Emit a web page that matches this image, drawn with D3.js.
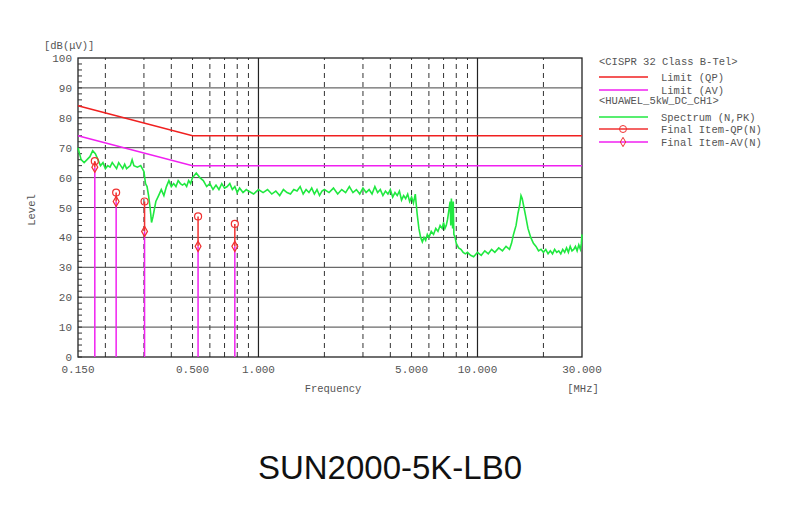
<!DOCTYPE html>
<html><head><meta charset="utf-8">
<script src="https://cdn.jsdelivr.net/npm/d3@7"></script>
<style>body{margin:0;background:#fff}text{font-family:"Liberation Mono",monospace;fill:#555}</style>
</head><body><svg id="c" width="808" height="518"></svg>
<script>
var specFreq = [0.15,0.155,0.16,0.165,0.17,0.175,0.18,0.185,0.19,0.195,0.2,0.205,0.21,0.215,0.22,0.225,0.23,0.235,0.24,0.245,0.25,0.26,0.265,0.27,0.28,0.29,0.295,0.3,0.305,0.31,0.315,0.32,0.325,0.33,0.34,0.35,0.36,0.37,0.38,0.39,0.4,0.41,0.42,0.43,0.44,0.45,0.46,0.47,0.48,0.49,0.5,0.52,0.54,0.56,0.58,0.6,0.62,0.64,0.66,0.68,0.7,0.72,0.74,0.76,0.78,0.8,0.82,0.85,0.88,0.9,0.95,1.0,1.05,1.1,1.15,1.2,1.25,1.3,1.35,1.4,1.45,1.5,1.55,1.6,1.65,1.7,1.75,1.8,1.85,1.9,1.95,2.0,2.1,2.2,2.3,2.4,2.5,2.6,2.7,2.8,2.9,3.0,3.1,3.2,3.3,3.4,3.5,3.6,3.7,3.8,3.9,4.0,4.1,4.2,4.3,4.4,4.5,4.6,4.7,4.8,4.9,5.0,5.1,5.2,5.3,5.4,5.5,5.6,5.7,5.8,5.9,6.0,6.15,6.3,6.45,6.6,6.75,6.9,7.0,7.1,7.2,7.3,7.5,7.55,7.6,7.7,7.75,7.8,7.9,8.0,8.2,8.4,8.6,8.8,9,9.3,9.6,10,10.4,10.8,11.2,11.6,12,12.5,13,13.5,14,14.3,14.6,15,15.3,15.6,15.8,16.0,16.3,16.6,17,17.5,18,18.5,19,19.5,20,20.5,21,21.5,22,22.5,23,23.5,24,24.5,25,25.5,26,26.5,27,27.5,28,28.5,29,29.5,29.8,30,30];
var specLevel = [70,66,65,66,67,69,68,66,64,65,63,64,63.5,65,64,63,65,64,63,64.5,63,64,66,64,63.5,64,63,62,58,57,54,50,45,47,52,54,56,54,57,59,57,58,57,59,58,57.5,58,57,59,58,60,61.5,60,59,57,58,56,57.5,56,58,56.5,57,58,56,57,55,56.5,55,56,55.5,54.5,56,55,56,54.5,55.5,54,56,55,54.5,56,55.5,57,54.5,56,55,56.5,54.5,56,54,55.5,56,55,56.5,54.5,56,55,57,55,56,54.5,56.5,55,56,54.5,57,55,56,54,55.5,54.5,56,53.5,55,54,55.5,52.5,54,53,54.5,52,53.5,51.5,54.5,48,43,40,38.5,40,39,41,40,42,41,43,42,44,43,45,43,44,46,52,44,53,43,52,41,40,38,36.5,36,35,34.5,35,34,33.5,35,34,35.5,34.5,36,35,36.5,35.5,37,36,38,41,44,48,51,54,53,50,47,43,40,38,37,35.5,36,35,36,34.5,35.5,34.5,36,35,35.5,34.5,36,35,36.5,35,37,35.5,36,37,35.5,37.5,36,38,41,41,16];
var limitFreq = [0.15,0.5,30];
var limitQP = [84,74,74];
var limitAV = [74,64,64];
var itemFreq = [0.179,0.224,0.302,0.53,0.78];
var itemQP = [65.5,55,52,47,44.5];
var itemAV = [63.5,52,42,37,37];
var xTickVals = [0.15,0.5,1,5,10,30];
var xTickText = ["0.150","0.500","1.000","5.000","10.000","30.000"];

var svg = d3.select("#c");
var x = d3.scaleLog().domain([0.15,30]).range([78,582]);
var y = d3.scaleLinear().domain([0,100]).range([357,58]);

// grid
var dashed = [0.2,0.3,0.4,0.6,0.7,0.8,0.9,2,3,4,6,7,8,9,20,0.5,5];
svg.selectAll(".vd").data(dashed).enter().append("line")
  .attr("x1", d => x(d)).attr("x2", d => x(d)).attr("y1", y(0)).attr("y2", y(100))
  .attr("stroke", "#333").attr("stroke-dasharray", "5,4").attr("stroke-width", 1);
svg.selectAll(".vs").data([1,10]).enter().append("line")
  .attr("x1", d => x(d)).attr("x2", d => x(d)).attr("y1", y(0)).attr("y2", y(100))
  .attr("stroke", "#222").attr("stroke-width", 1.2);
svg.selectAll(".hs").data(d3.range(10,100,10)).enter().append("line")
  .attr("x1", 78).attr("x2", 582).attr("y1", d => y(d)).attr("y2", d => y(d))
  .attr("stroke", "#444").attr("stroke-width", 1);
svg.append("rect").attr("x",78).attr("y",58).attr("width",504).attr("height",299)
  .attr("fill","none").attr("stroke","#222").attr("stroke-width",1.3);
svg.selectAll(".mt").data(d3.range(0,100,2)).enter().append("line")
  .attr("x1",78).attr("x2",82).attr("y1",d=>y(d)).attr("y2",d=>y(d)).attr("stroke","#333");

// labels
svg.selectAll(".yl").data(d3.range(0,101,10)).enter().append("text")
  .attr("x",72).attr("y",d=>y(d)+4).attr("text-anchor","end").attr("font-size",11).text(d=>d);
svg.selectAll(".xl").data(xTickVals).enter().append("text")
  .attr("x",d=>x(d)).attr("y",373).attr("text-anchor","middle").attr("font-size",11)
  .text((d,i)=>xTickText[i]);
svg.append("text").attr("x",44).attr("y",49).attr("font-size",10.5).text("[dB(μV)]");
svg.append("text").attr("transform","translate(35,210) rotate(-90)").attr("text-anchor","middle").attr("font-size",10.5).text("Level");
svg.append("text").attr("x",333).attr("y",392).attr("text-anchor","middle").attr("font-size",10.5).text("Frequency");
svg.append("text").attr("x",583).attr("y",392).attr("text-anchor","middle").attr("font-size",10.5).text("[MHz]");

// limits
var line = d3.line().x(d=>x(d[0])).y(d=>y(d[1]));
svg.append("path").attr("d", line(d3.zip(limitFreq,limitQP))).attr("fill","none").attr("stroke","#f02020").attr("stroke-width",1.5);
svg.append("path").attr("d", line(d3.zip(limitFreq,limitAV))).attr("fill","none").attr("stroke","#f020f0").attr("stroke-width",1.5);

// spectrum
svg.append("path").attr("d", line(d3.zip(specFreq,specLevel))).attr("fill","none").attr("stroke","#20e840").attr("stroke-width",1.6);

// final items
itemFreq.forEach(function(f,i){
  svg.append("line").attr("x1",x(f)).attr("x2",x(f)).attr("y1",y(0)).attr("y2",y(itemAV[i])).attr("stroke","#f020f0").attr("stroke-width",1.5);
  svg.append("line").attr("x1",x(f)).attr("x2",x(f)).attr("y1",y(itemAV[i])).attr("y2",y(itemQP[i])).attr("stroke","#f03030").attr("stroke-width",1.5);
  svg.append("circle").attr("cx",x(f)).attr("cy",y(itemQP[i])).attr("r",3.5).attr("fill","none").attr("stroke","#f03030").attr("stroke-width",1.2);
  svg.append("path").attr("d",d3.symbol(d3.symbolDiamond,30)()).attr("transform","translate("+x(f)+","+y(itemAV[i])+")").attr("fill","none").attr("stroke","#f03030").attr("stroke-width",1.2);
});

// legend
var lg = svg.append("g").attr("font-size",10.5);
lg.append("text").attr("x",599).attr("y",65).attr("font-size",10.5).text("<CISPR 32 Class B-Tel>");
lg.append("text").attr("x",599).attr("y",104).attr("font-size",10.5).text("<HUAWEL_5kW_DC_CH1>");
var rows = [["Limit (QP)",77,"#f02020",null],["Limit (AV)",90,"#f020f0",null],["Spectrum (N,PK)",117,"#20e840",null],["Final Item-QP(N)",129,"#f03030","c"],["Final Item-AV(N)",142,"#f020f0","d"]];
rows.forEach(function(r){
  lg.append("line").attr("x1",599).attr("x2",648).attr("y1",r[1]).attr("y2",r[1]).attr("stroke",r[2]).attr("stroke-width",1.3);
  if (r[3]=="c") lg.append("circle").attr("cx",623).attr("cy",r[1]).attr("r",3.5).attr("fill","none").attr("stroke","#f03030");
  if (r[3]=="d") lg.append("path").attr("d",d3.symbol(d3.symbolDiamond,25)()).attr("transform","translate(623,"+r[1]+")").attr("fill","none").attr("stroke","#f03030");
  lg.append("text").attr("x",661).attr("y",r[1]+4).attr("font-size",10.5).text(r[0]);
});

svg.append("text").attr("x",390).attr("y",479).attr("text-anchor","middle")
  .style("font-family","Liberation Sans, Arial, sans-serif").style("fill","#111").attr("font-size",33).text("SUN2000-5K-LB0");
</script></body></html>
